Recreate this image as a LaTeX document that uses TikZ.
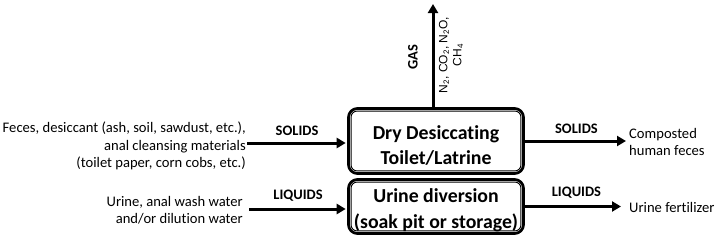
\documentclass[tikz,border=0pt]{standalone}
\usepackage{fontspec}
\setmainfont[Ligatures=NoCommon]{Carlito}
\newfontfamily\gasfont{Liberation Sans}
\usetikzlibrary{positioning,calc,arrows.meta}

\tikzset{
    plant/.style={draw,line width=2.8pt,rounded corners=9pt,inner sep=0pt},
    plantname/.style={align=center,font=\fontsize{19.8}{25.5}\selectfont\bfseries,yshift=-4.5pt},
    flow/.style={line width=3pt,-{Triangle[length=9pt,width=10pt]}},
    stream/.style={font=\fontsize{14.5}{16}\selectfont\bfseries},
    matter/.style={font=\fontsize{14.6}{17.5}\selectfont,inner sep=1pt}
}

\begin{document}
\begin{tikzpicture}[x=1pt,y=-1pt]
            \useasboundingbox[fill=white] (0,0) rectangle (726,244);
            % the two chambers
            \node[plant,minimum width=175pt,minimum height=65pt,
                label={[plantname]center:Dry Desiccating\\Toilet/Latrine}] (toilet) at (436,141) {};
            \node[plant,minimum width=175pt,minimum height=54pt,
                label={[plantname,yshift=1pt]center:Urine diversion\\(soak pit or storage)}] (diversion) at (436,206.5) {};
            \foreach \b in {toilet,diversion} {
                \draw[line width=0.9pt,rounded corners=6pt] ($(\b.north west)+(4,4)$) rectangle ($(\b.south east)+(-4,-4)$);
            }
            % inputs
            \node[matter,align=right,anchor=east] (feces) at (247,146) {Feces, desiccant (ash, soil, sawdust, etc.),\\anal cleansing materials\\(toilet paper, corn cobs, etc.)};
            \node[matter,align=right,anchor=east] (urine) at (244,210) {Urine, anal wash water\\and/or dilution water};
            % outputs
            \node[matter,align=left,anchor=west] (compost) at (628,142) {Composted\\human feces};
            \node[matter,anchor=west] (fertilizer) at (628,207) {Urine fertilizer};
            \coordinate (vent) at (433,4);
            \draw[flow,shorten >=1.4pt] (feces.east |- 0,143) -- node[stream,above=3pt] {SOLIDS} (toilet.west |- 0,143);
            \draw[flow,shorten >=1.4pt] (urine.east |- 0,209) ++(5,0) -- node[stream,above=3pt] {LIQUIDS} (diversion.west |- 0,209);
            \draw[flow,shorten >=2pt] (toilet.east) -- node[stream,above=3pt] {SOLIDS} (compost.west |- toilet.east);
            \draw[flow,shorten >=7pt] (diversion.east) -- node[stream,above=3pt] {LIQUIDS} (fertilizer.west |- diversion.east);
            \draw[flow] (toilet.north -| vent) -- (vent);
            \node[stream,rotate=90] (gas) at (413,57) {GAS};
            \node[rotate=90,align=center,font=\fontsize{12}{14}\selectfont\gasfont] (gases) at (451,55) {N\textsubscript{2}, CO\textsubscript{2}, N\textsubscript{2}O,\\CH\textsubscript{4}};
        \end{tikzpicture}
\end{document}
